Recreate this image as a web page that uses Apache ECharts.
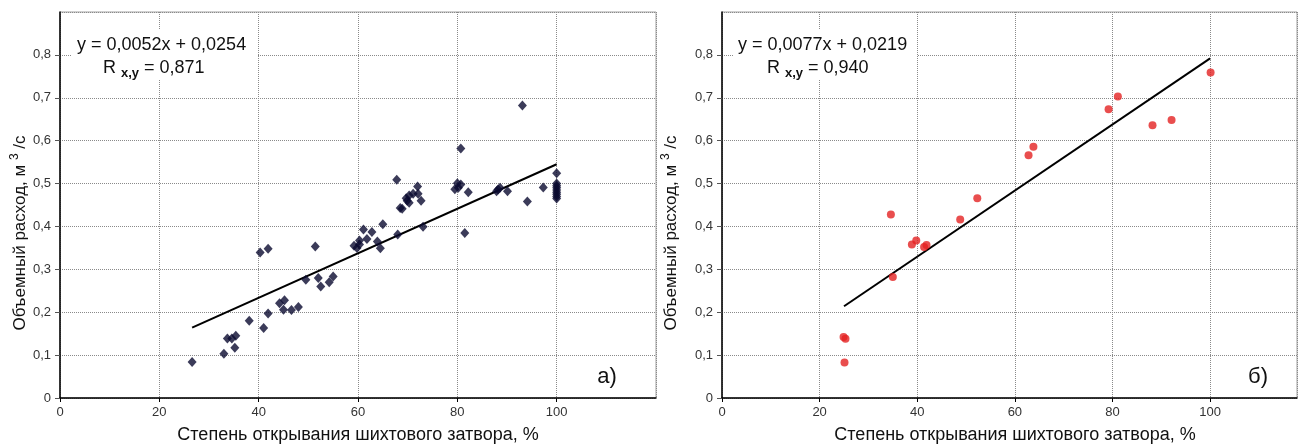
<!DOCTYPE html>
<html>
<head>
<meta charset="utf-8">
<script src="https://cdn.jsdelivr.net/npm/echarts@6/dist/echarts.min.js"></script>
<style>
html,body{margin:0;padding:0;background:#fff;}
#c{width:1298px;height:445px;}
</style>
</head>
<body>
<div id="c"></div>
<script>
// ---- data ----
const openA = [26.6,33.0,33.7,34.6,35.4,35.2,38.1,40.3,41.9,41.0,41.9,44.2,45.2,45.0,46.6,48.0,49.5,51.4,52.0,52.5,54.2,55.0,
  59.2,59.8,60.3,60.3,61.1,61.8,62.8,63.9,64.5,65.0,67.8,68.0,68.5,68.9,69.7,69.9,70.3,70.3,71.1,72.0,72.1,72.7,73.1,
  79.5,80.0,80.2,80.7,80.7,81.5,82.2,87.9,88.2,88.6,90.1,93.1,94.1,97.3,100,100,100,100,100,100,100,100,100];
const flowA = [0.084,0.103,0.139,0.139,0.145,0.117,0.180,0.339,0.348,0.163,0.197,0.221,0.228,0.206,0.205,0.212,0.276,0.353,0.280,0.260,0.270,0.283,
  0.355,0.350,0.358,0.367,0.393,0.371,0.387,0.365,0.349,0.405,0.509,0.381,0.443,0.441,0.466,0.460,0.472,0.455,0.476,0.493,0.476,0.460,0.399,
  0.487,0.501,0.490,0.498,0.582,0.385,0.480,0.482,0.486,0.490,0.482,0.682,0.458,0.491,0.524,0.500,0.495,0.490,0.485,0.480,0.475,0.470,0.465];
const openB = [25.1,24.9,25.3,34.6,35.0,38.9,39.8,41.4,41.9,48.8,52.3,62.8,63.8,79.2,81.1,88.2,92.1,100.1];
const flowB = [0.083,0.142,0.138,0.428,0.282,0.358,0.367,0.352,0.357,0.416,0.466,0.566,0.586,0.673,0.703,0.636,0.648,0.759];
const trendA = [[26.6,0.164],[100,0.545]];
const trendB = [[25.0,0.214],[100,0.792]];
const eqA = ['y = 0,0052x + 0,0254', '0,871'];
const eqB = ['y = 0,0077x + 0,0219', '0,940'];
const xTitle = 'Степень открывания шихтового затвора, %';
const yTitle = 'Объемный расход, м {sup|3} /с';
const panelTags = ['а)', 'б)'];
const xMaxA = 120, xMaxB = 117.8;

const FONT = '"Liberation Sans", Arial, sans-serif';
const pairs = (xs, ys) => xs.map((x, i) => [x, ys[i]]);
const yFmt = v => (Math.abs(v) < 1e-9 ? '0' : v.toFixed(1).replace('.', ','));

function xAxisCfg(gi, max) {
  return {
    type: 'value', gridIndex: gi, min: 0, max: max, interval: 20,
    axisLine: { show: true, onZero: false, lineStyle: { color: '#000', width: 1.5 } },
    axisTick: { show: true, length: 4, lineStyle: { color: '#000' } },
    axisLabel: { showMaxLabel: false, color: '#333', fontSize: 13, fontFamily: FONT, margin: 8 },
    splitLine: { show: true, lineStyle: { type: 'dotted', color: '#8a8a8a', width: 1 } }
  };
}
function yAxisCfg(gi) {
  return {
    type: 'value', gridIndex: gi, min: 0, max: 0.9, interval: 0.1,
    axisLine: { show: true, onZero: false, lineStyle: { color: '#000', width: 1.5 } },
    axisTick: { show: true, length: 5, lineStyle: { color: '#555' } },
    axisLabel: { showMaxLabel: false, color: '#333', fontSize: 13, fontFamily: FONT, margin: 9, formatter: yFmt },
    splitLine: { show: true, lineStyle: { type: 'dotted', color: '#8a8a8a', width: 1 } }
  };
}

function textEl(x, y, text, size, opts) {
  opts = opts || {};
  return Object.assign({
    type: 'text', x: x, y: y, z: 20,
    style: Object.assign({
      text: text, fontSize: size, fontFamily: FONT, fill: '#111',
      align: opts.align || 'center', textAlign: opts.align || 'center',
      verticalAlign: 'middle', textVerticalAlign: 'middle'
    }, opts.style || {})
  }, opts.el || {});
}
function eqBlock(x0, x1, lineX, eq) {
  return [
    { type: 'rect', z: 15, shape: { x: x0, y: 30, width: x1 - x0, height: 50 }, style: { fill: '#fff' } },
    textEl(x0 + 5, 45, eq[0], 18, { align: 'left' }),
    textEl(lineX, 68, 'R {s|x,y} = ' + eq[1], 18, {
      align: 'left',
      style: { lineHeight: 24, rich: { s: { fontSize: 13, fontWeight: 'bold', fontFamily: FONT, lineHeight: 13, verticalAlign: 'bottom', fill: '#111' } } }
    })
  ];
}
function yTitleEl(cx) {
  return textEl(cx, 233, yTitle, 17, {
    el: { rotation: Math.PI / 2 },
    style: { lineHeight: 22, rich: { sup: { fontSize: 12, fontFamily: FONT, lineHeight: 12, verticalAlign: 'top', fill: '#111' } } }
  });
}

const chart = echarts.init(document.getElementById('c'), null, { renderer: 'canvas' });
chart.setOption({
  animation: false,
  backgroundColor: '#fff',
  grid: [
    { left: 60, top: 12, width: 596, height: 386, show: true, borderColor: '#a0a0a0', borderWidth: 1 },
    { left: 722, top: 12, width: 575, height: 386, show: true, borderColor: '#a0a0a0', borderWidth: 1 }
  ],
  xAxis: [xAxisCfg(0, xMaxA), xAxisCfg(1, xMaxB)],
  yAxis: [yAxisCfg(0), yAxisCfg(1)],
  series: [
    { type: 'scatter', xAxisIndex: 0, yAxisIndex: 0, data: pairs(openA, flowA), symbol: 'diamond', symbolSize: [9, 10],
      itemStyle: { color: '#0a0a30' }, z: 5 },
    { type: 'line', xAxisIndex: 0, yAxisIndex: 0, data: trendA, symbol: 'none', lineStyle: { color: '#000', width: 2 }, z: 4 },
    { type: 'scatter', xAxisIndex: 1, yAxisIndex: 1, data: pairs(openB, flowB), symbol: 'circle', symbolSize: 8,
      itemStyle: { color: '#e32222' }, z: 5 },
    { type: 'line', xAxisIndex: 1, yAxisIndex: 1, data: trendB, symbol: 'none', lineStyle: { color: '#000', width: 2 }, z: 4 }
  ],
  graphic: [].concat(
    eqBlock(72, 258, 103, eqA),
    eqBlock(733, 917, 767, eqB),
    [
      yTitleEl(20), yTitleEl(671),
      textEl(358, 435, xTitle, 18),
      textEl(1015, 435, xTitle, 18),
      textEl(607, 377, panelTags[0], 22),
      textEl(1258, 377, panelTags[1], 22)
    ]
  )
});
</script>
</body>
</html>
